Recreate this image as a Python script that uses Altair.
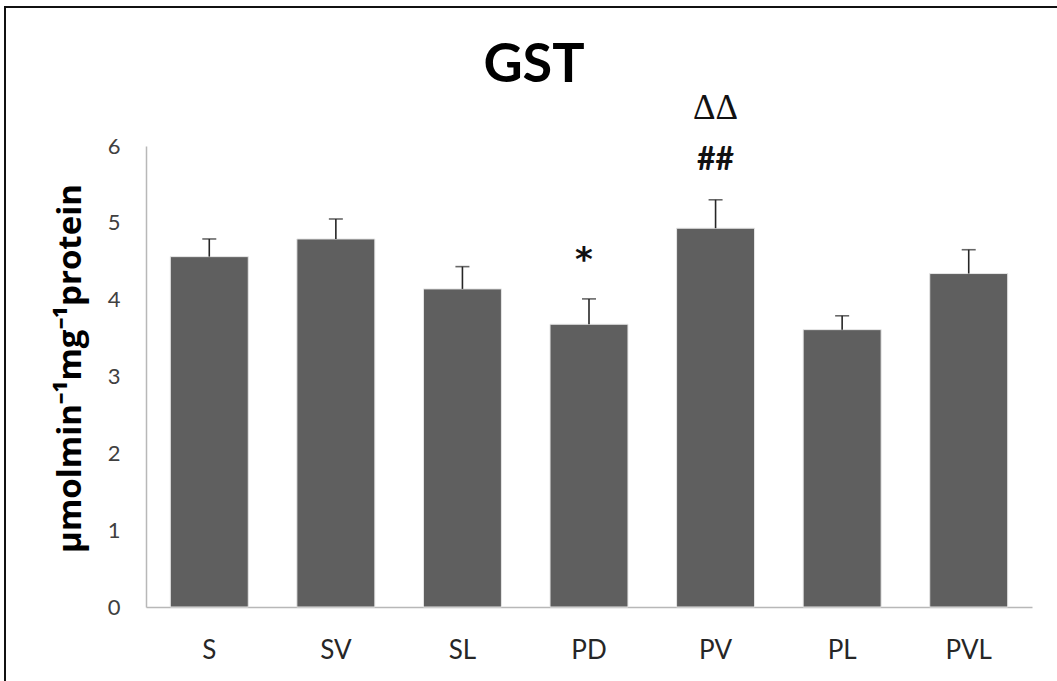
import altair as alt
import pandas as pd

title_text = ["GST"]
groups = ["S", "SV", "SL", "PD", "PV", "PL", "PVL"]
means = [4.56, 4.79, 4.14, 3.68, 4.93, 3.61, 4.34]
upper = [4.79, 5.05, 4.43, 4.01, 5.30, 3.79, 4.65]

star_groups = ["PD"]
star_text = ["*"]
star_y = [4.58]
hash_groups = ["PV"]
hash_text = ["##"]
hash_y = [5.82]
delta_groups = ["PV"]
delta_text = ["ΔΔ"]
delta_y = [6.50]

df = pd.DataFrame({"group": groups, "mean": means, "upper": upper})
star = pd.DataFrame({"group": star_groups, "txt": star_text, "y": star_y})
hsh = pd.DataFrame({"group": hash_groups, "txt": hash_text, "y": hash_y})
dlt = pd.DataFrame({"group": delta_groups, "txt": delta_text, "y": delta_y})

xenc = alt.X(
    "group:N", sort=groups, title=None,
    scale=alt.Scale(paddingInner=0.384, paddingOuter=0.192),
    axis=alt.Axis(labelAngle=0, ticks=False, labelPadding=30, labelFontSize=26,
                  labelFont="Lato", labelColor="#262626", domainColor="#b8b8b8",
                  domainWidth=1.5),
)
yscale = alt.Scale(domain=[0, 6], nice=False)
yaxis = alt.Axis(values=[0, 1, 2, 3, 4, 5, 6], format="d", ticks=False, grid=False,
                 labelPadding=26, labelFontSize=22, labelFont="Lato", labelColor="#404040",
                 domainColor="#b8b8b8", domainWidth=1.5,
                 title="μmolmin⁻¹mg⁻¹protein", titleFont="Open Sans", titleFontSize=33,
                 titleFontWeight="bold", titleColor="#000000", titleAngle=-90,
                 titleX=-76, titleY=222, titleAlign="center", titleBaseline="middle")

frame = alt.Chart(pd.DataFrame({"a": [0]})).mark_rect(
    fill=None, stroke="#111111", strokeWidth=2
).encode(x=alt.value(-141), x2=alt.value(1000), y=alt.value(-139), y2=alt.value(700))

title = alt.Chart(pd.DataFrame({"t": title_text})).mark_text(
    font="Lato", fontSize=54, fontWeight="bold", color="#000000",
    align="center", baseline="alphabetic"
).encode(x=alt.value(388), y=alt.value(-64), text="t:N")

bars = alt.Chart(df).mark_bar(color="#5f5f5f", stroke="#e6e6e6", strokeWidth=1).encode(
    x=xenc, y=alt.Y("mean:Q", scale=yscale, axis=yaxis)
)
err = alt.Chart(df).mark_rule(color="#262626", strokeWidth=1.6).encode(
    x=alt.X("group:N", sort=groups), y="mean:Q", y2="upper:Q"
)
caps = alt.Chart(df).mark_tick(color="#262626", thickness=1.6, size=14, orient="horizontal").encode(
    x=alt.X("group:N", sort=groups), y="upper:Q"
)
star_layer = alt.Chart(star).mark_text(font="DejaVu Sans", fontSize=34, fontWeight="bold",
                                       color="#111111", baseline="middle", dx=-5, dy=6).encode(
    x=alt.X("group:N", sort=groups), y="y:Q", text="txt:N"
)
hash_layer = alt.Chart(hsh).mark_text(font="Lato", fontSize=32, fontWeight="bold",
                                      color="#111111", baseline="middle").encode(
    x=alt.X("group:N", sort=groups), y="y:Q", text="txt:N"
)
delta_layer = alt.Chart(dlt).mark_text(font="Liberation Serif", fontSize=35,
                                       color="#111111", baseline="middle").encode(
    x=alt.X("group:N", sort=groups), y="y:Q", text="txt:N"
)

chart = alt.layer(frame, title, bars, err, caps, star_layer, hash_layer, delta_layer).properties(
    width=886, height=461,
    autosize=alt.AutoSizeParams(type="none"),
    padding={"left": 146, "top": 146, "right": 25, "bottom": 74},
).configure(background="white", view=alt.ViewConfig(stroke=None))

chart.save("out.html", embed_options={"renderer": "svg", "actions": False})
